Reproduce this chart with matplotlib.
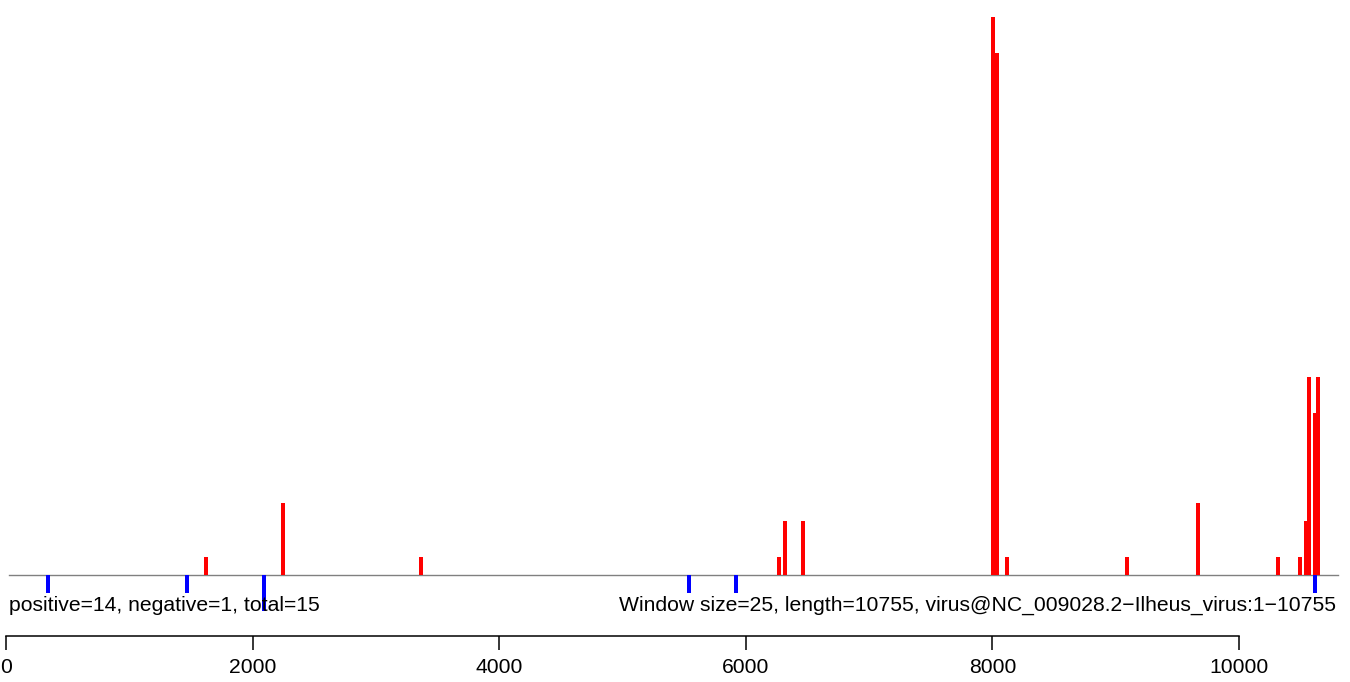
import numpy as np
import matplotlib
matplotlib.use('Agg')
import matplotlib.pyplot as plt

# window centres and counts
pos_x = [1619, 2244, 3363, 6265, 6316, 6462, 8004, 8034, 8118, 9091, 9668,
         10316, 10495, 10540, 10568, 10613, 10641]
pos_h = [1, 4, 1, 1, 3, 3, 31, 29, 1, 1, 4,
         1, 1, 3, 11, 9, 11]
neg_x = [337, 1464, 2089, 5538, 5919, 10617]
neg_h = [-1, -1, -2, -1, -1, -1]

left_text = 'positive=14, negative=1, total=15'
right_text = 'Window size=25, length=10755, virus@NC_009028.2\u2212Ilheus_virus:1\u221210755'
xticks = [0, 2000, 4000, 6000, 8000, 10000]

plt.rcParams['font.family'] = ['Liberation Sans', 'DejaVu Sans']

fig = plt.figure(figsize=(13.5, 6.82), dpi=100)
ax = fig.add_axes([0, 46 / 682, 1, 636 / 682])
ax.set_xlim(-52.7, 10900.6)
ax.set_ylim(-61 / 18, 575 / 18)

ax.plot([20, 10800], [0, 0], color='#808080', lw=1.0, zorder=1)
ax.bar(pos_x, pos_h, width=30, color='#ff0000', zorder=2)
ax.bar(neg_x, neg_h, width=30, color='#0000ff', zorder=2)

ax.text(20, -1.7, left_text, ha='left', va='center', fontsize=15.2)
ax.text(10790, -1.7, right_text, ha='right', va='center', fontsize=15.2)

for s in ['top', 'left', 'right']:
    ax.spines[s].set_visible(False)
ax.spines['bottom'].set_bounds(0, 10000)
ax.spines['bottom'].set_linewidth(1.1)
ax.set_yticks([])
ax.set_xticks(xticks)
ax.set_xticklabels([str(t) for t in xticks])
ax.tick_params(axis='x', direction='out', length=10, width=1.1, pad=6, labelsize=15.2)

fig.savefig('out.png', dpi=100)
